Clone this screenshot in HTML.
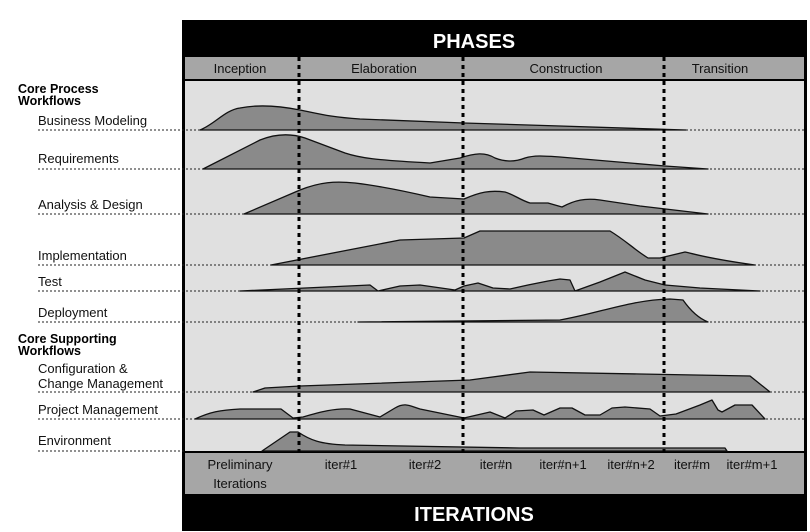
<!DOCTYPE html>
<html><head><style>
body{margin:0;background:#fff;}
svg{display:block;font-family:"Liberation Sans",sans-serif;}
.n{font-family:"Liberation Sans Narrow","Liberation Sans",sans-serif;font-size:13px;fill:#111;}
.h{font-weight:bold;font-size:12.5px;fill:#000;}
.a{fill:#8a8a8a;stroke:#111;stroke-width:1.3;stroke-linejoin:round;}
.b{stroke:#222;stroke-width:1;stroke-dasharray:2,2;}
.v{stroke:#000;stroke-width:3;stroke-dasharray:4,4;}
</style></head><body>
<svg width="810" height="532" viewBox="0 0 810 532">
<rect x="0" y="0" width="810" height="532" fill="#fff"/>
<rect x="182" y="20" width="625" height="511" fill="#000"/>
<rect x="185" y="57" width="619" height="22" fill="#a6a6a6"/>
<rect x="185" y="81" width="619" height="370" fill="#e0e0e0"/>
<rect x="185" y="453" width="619" height="41" fill="#a6a6a6"/>
<text x="474" y="48" text-anchor="middle" fill="#fff" font-weight="bold" font-size="20">PHASES</text>
<text x="474" y="521" text-anchor="middle" fill="#fff" font-weight="bold" font-size="20">ITERATIONS</text>
<g class="n">
<text x="240" y="73" text-anchor="middle">Inception</text>
<text x="384" y="73" text-anchor="middle">Elaboration</text>
<text x="566" y="73" text-anchor="middle">Construction</text>
<text x="720" y="73" text-anchor="middle">Transition</text>
<text x="240" y="469" text-anchor="middle">Preliminary</text>
<text x="240" y="488" text-anchor="middle">Iterations</text>
<text x="341" y="469" text-anchor="middle">iter#1</text>
<text x="425" y="469" text-anchor="middle">iter#2</text>
<text x="496" y="469" text-anchor="middle">iter#n</text>
<text x="563" y="469" text-anchor="middle">iter#n+1</text>
<text x="631" y="469" text-anchor="middle">iter#n+2</text>
<text x="692" y="469" text-anchor="middle">iter#m</text>
<text x="752" y="469" text-anchor="middle">iter#m+1</text>
<text x="38" y="125">Business Modeling</text>
<text x="38" y="163">Requirements</text>
<text x="38" y="209">Analysis &amp; Design</text>
<text x="38" y="260">Implementation</text>
<text x="38" y="286">Test</text>
<text x="38" y="317">Deployment</text>
<text x="38" y="373">Configuration &amp;</text>
<text x="38" y="388">Change Management</text>
<text x="38" y="414">Project Management</text>
<text x="38" y="445">Environment</text>
</g>
<text class="h" x="18" y="93">Core Process</text>
<text class="h" x="18" y="105">Workflows</text>
<text class="h" x="18" y="343">Core Supporting</text>
<text class="h" x="18" y="355">Workflows</text>
<g class="b">
<line x1="38" y1="130" x2="804" y2="130"/><line x1="38" y1="169" x2="804" y2="169"/>
<line x1="38" y1="214" x2="804" y2="214"/><line x1="38" y1="265" x2="804" y2="265"/>
<line x1="38" y1="291" x2="804" y2="291"/><line x1="38" y1="322" x2="804" y2="322"/>
<line x1="38" y1="392" x2="804" y2="392"/><line x1="38" y1="419" x2="804" y2="419"/>
<line x1="38" y1="451" x2="185" y2="451"/>
</g>
<g class="a">
<path d="M200,130 C215,124 225,110 240,108 C255,105 275,105 300,110 C320,114 330,117 360,119 L464,123 L560,126 L686,130 Z"/>
<path d="M203,169 L260,140 C275,134 290,133 305,138 L345,153 C360,158 375,160 430,163 L460,158 C475,153 485,152 495,158 C505,162 515,162 525,158 C535,155 545,156 560,157 L665,166 L708,169 Z"/>
<path d="M244,214 L300,190 C320,182 335,181 355,183 C380,186 400,190 430,197 L464,199 C480,192 490,190 505,192 C515,195 520,200 530,203 L548,203 L562,207 C575,200 585,198 600,200 L640,206 L708,214 Z"/>
<path d="M271,265 L400,240 L464,238 L480,231 L610,231 C625,240 635,250 648,258 L660,258 L685,252 C695,254 705,258 755,265 Z"/>
<path d="M240,291 L370,285 L378,291 L400,286 L420,285 L455,290 L464,286 L478,283 L493,288 L510,289 L528,285 L548,281 L560,279 L570,280 L575,291 L600,282 L625,272 L645,280 L665,285 L700,288 L760,291 Z"/>
<path d="M358,322 L560,320 C600,313 630,300 670,299 L683,300 C690,310 698,318 708,322 Z"/>
<path d="M253,392 L265,388 L300,386 L470,380 L530,372 L640,374 L750,376 L770,392 Z"/>
<path d="M195,419 C210,412 220,410 240,409 L281,409 L293,418 L303,417 C320,412 335,408 350,409 L380,417 L395,408 C405,402 410,406 420,409 L464,418 L490,412 L505,418 L516,411 L533,410 L544,415 L560,408 L572,408 L585,415 L600,415 L612,408 L625,407 L650,409 L660,416 L676,414 L700,405 L712,400 L718,410 L722,412 L735,405 L752,405 L765,419 Z"/>
<path d="M262,451 L290,432 L298,432 C310,440 320,444 345,445 L520,448 L725,448 L727,451 Z"/>
</g>
<g class="v">
<line x1="299" y1="57" x2="299" y2="452"/><line x1="463" y1="57" x2="463" y2="452"/><line x1="664" y1="57" x2="664" y2="452"/>
</g>
</svg>
</body></html>
